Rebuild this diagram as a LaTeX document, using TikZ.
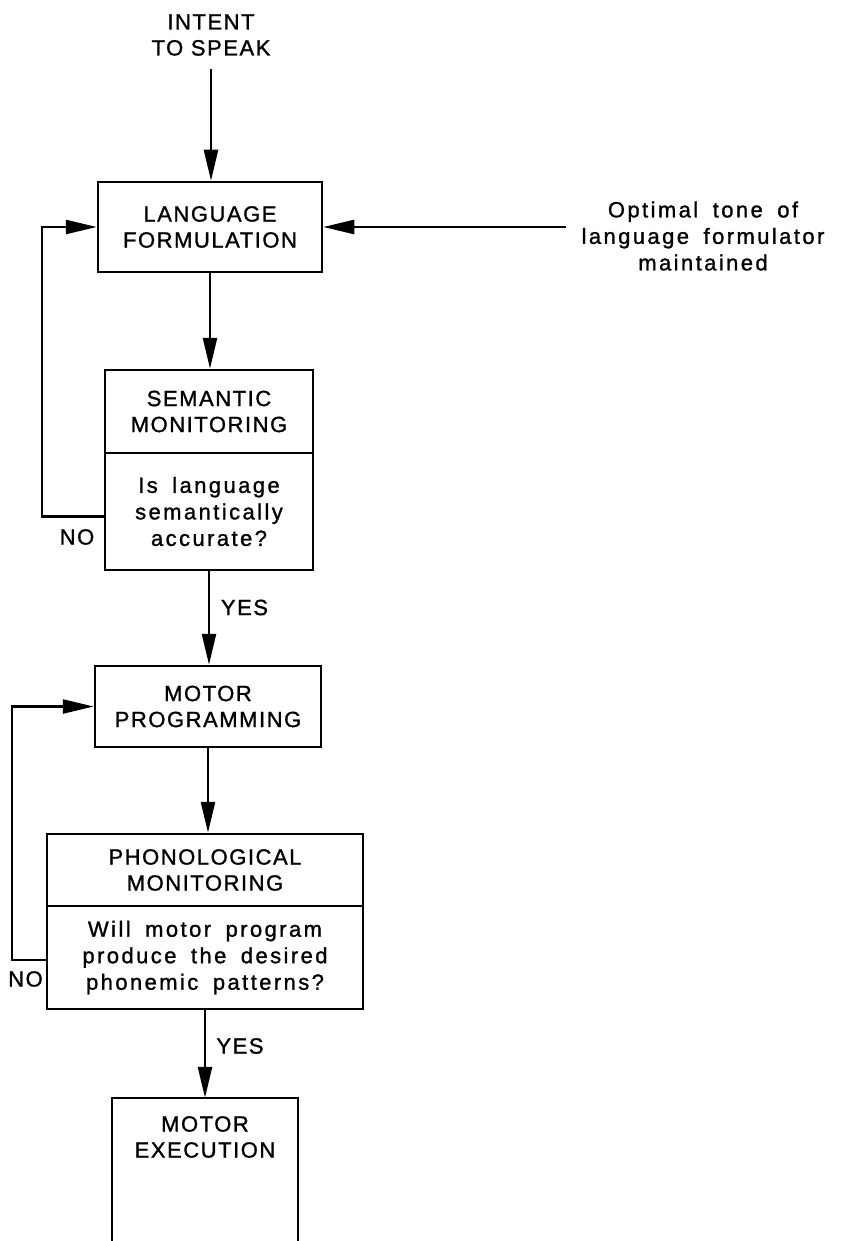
\documentclass[tikz,border=0pt]{standalone}
\usepackage{fontspec}
\setmainfont{Liberation Sans}
\newfontfamily\capsf{Liberation Sans}[LetterSpace=7,FakeBold=1.2]
\newfontfamily\lowf{Liberation Sans}[LetterSpace=11,WordSpace=1.7,FakeBold=1.2]
\usetikzlibrary{arrows.meta,calc}
\begin{document}
\begin{tikzpicture}[x=1pt,y=-1pt,
 box/.style={draw,line width=2.5pt,rectangle,align=center,inner sep=0pt},
 arr/.style={line width=2.5pt,-{Triangle[length=31pt,width=14pt]}},
 ln/.style={line width=2.5pt},
 capt/.style={font=\capsf\fontsize{22}{26}\selectfont,align=center},
 lowt/.style={font=\lowf\fontsize{22}{26.5}\selectfont,align=center},
]
\useasboundingbox (0,0) rectangle (862,1241);

\node[capt] (intent) at (211,35) {INTENT\\TO SPEAK};
\node[box,capt,minimum width=224,minimum height=90] (LF) at (210,227) {LANGUAGE\\FORMULATION};
\node[box,capt,minimum width=208,minimum height=83] (semtop) at (209,411.5) {SEMANTIC\\MONITORING};
\node[box,lowt,minimum width=208,minimum height=117] (sembot) at (209,511.5) {Is language\\semantically\\accurate?};
\node[box,capt,minimum width=226,minimum height=81] (MP) at (208,706.5) {MOTOR\\PROGRAMMING};
\node[box,capt,minimum width=316,minimum height=72] (phtop) at (205,870) {PHONOLOGICAL\\MONITORING};
\node[box,lowt,minimum width=316,minimum height=103] (phbot) at (205,957.5) {Will motor program\\produce the desired\\phonemic patterns?};
\node[minimum width=186,minimum height=143,inner sep=0pt] (MEbox) at (205,1169.5) {};
\draw[ln] (MEbox.south west) -- (MEbox.north west) -- (MEbox.north east) -- (MEbox.south east);
\node[capt] (ME) at (205,1137) {MOTOR\\EXECUTION};

\node[lowt] (opt) at (703,236) {Optimal tone of\\language formulator\\maintained};

\node[capt] (yes1) at (244.5,607.5) {YES};
\node[capt] (yes2) at (240,1046) {YES};
\node[capt] (no1) at (77,537) {NO};
\node[capt] (no2) at (25.5,979) {NO};

\draw[arr] ($(intent.south)+(0,10)$) -- (intent.south |- LF.north);
\draw[arr] (LF.south) -- (LF.south |- semtop.north);
\draw[arr] (sembot.south) -- (sembot.south |- MP.north);
\draw[arr] (MP.south) -- (MP.south |- phtop.north);
\draw[arr] (phbot.south) -- (phbot.south |- MEbox.north);
\draw[arr] ($(sembot.west)+(0,5)$) -- ++(-62,0) |- (LF.west);
\draw[arr] ($(phbot.west)+(0,2.5)$) -- ++(-34,0) |- (MP.west);
\draw[arr] ($(LF.east -| opt.west)+(-12,0)$) -- (LF.east);
\end{tikzpicture}
\end{document}
